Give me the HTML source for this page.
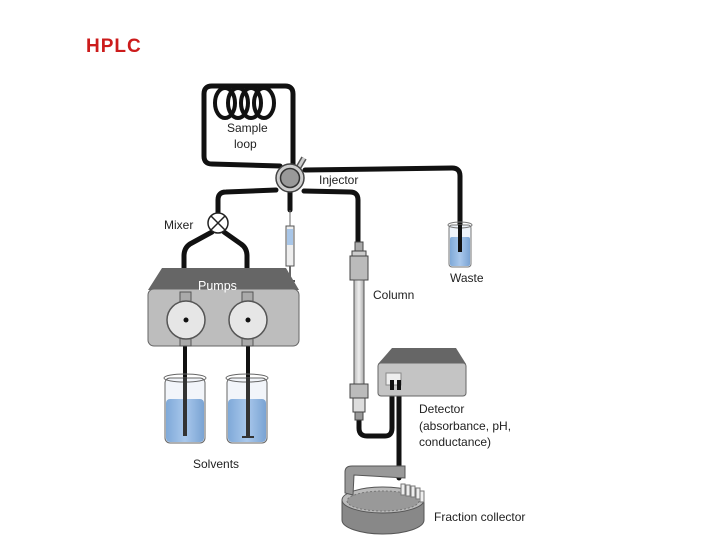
<!DOCTYPE html>
<html><head><meta charset="utf-8"><style>
html,body{margin:0;padding:0;background:#fff;}
svg{display:block}
text{font-family:"Liberation Sans",sans-serif;font-size:12px;fill:#222}
</style></head><body>
<svg width="720" height="540" viewBox="0 0 720 540" xmlns="http://www.w3.org/2000/svg">
<defs>
<linearGradient id="liq" x1="0" x2="1"><stop offset="0" stop-color="#7fa9d8"/><stop offset="0.5" stop-color="#a9c8ec"/><stop offset="1" stop-color="#7aa3d3"/></linearGradient>
<linearGradient id="col" x1="0" x2="1"><stop offset="0" stop-color="#bbb"/><stop offset="0.5" stop-color="#eee"/><stop offset="1" stop-color="#aaa"/></linearGradient>
</defs>
<text x="86" y="52" style="font-family:'Liberation Sans',sans-serif;font-size:19px;font-weight:bold;fill:#cc1b1b;letter-spacing:1px">HPLC</text>
<g fill="none" stroke="#111" stroke-width="5" stroke-linecap="round" stroke-linejoin="round">
<path d="M280,166 L212,164 Q204,164 204,156 L204,94 Q204,86 212,86 L285,86 Q293,86 293,94 L293,165"/>
<path d="M305,170 L452,168 Q460,168 460,176 L460,250"/>
<path d="M276,190 L226,192 Q218,192 218,200 L218,214"/>
<path d="M212,232 L190,244 Q184,248 184,256 L184,296"/>
<path d="M224,232 L241,244 Q247,248 247,256 L247,296"/>
<path d="M304,191 L350,192 Q358,192 358,200 L358,242"/>
<path d="M290,192 L290,210"/>
<path d="M359,420 L359,428 Q359,436 367,436 L385,436 Q392,436 392,428 L392,385"/>
<path d="M399,385 L399,478"/>
<path d="M185,340 L185,436" stroke-width="4"/>
<path d="M248,340 L248,437" stroke-width="4"/>
</g>
<g fill="none" stroke="#111" stroke-width="4">
<ellipse cx="225" cy="103" rx="10" ry="15"/><ellipse cx="238" cy="103" rx="10" ry="15"/>
<ellipse cx="251" cy="103" rx="10" ry="15"/><ellipse cx="264" cy="103" rx="10" ry="15"/>
</g>
<line x1="297" y1="170" x2="304" y2="158" stroke="#555" stroke-width="6"/>
<line x1="297" y1="170" x2="304" y2="158" stroke="#ccc" stroke-width="3"/>
<circle cx="290" cy="178" r="14" fill="#ccc" stroke="#444" stroke-width="1.5"/>
<circle cx="290" cy="178" r="9.5" fill="#999" stroke="#333" stroke-width="1.5"/>
<circle cx="218" cy="223" r="10" fill="#fff" stroke="#222" stroke-width="1.5"/>
<path d="M211,216 L225,230 M225,216 L211,230" stroke="#222" stroke-width="1.5"/>
<rect x="286" y="226" width="8" height="40" fill="#eee" stroke="#555"/>
<rect x="287" y="229" width="6" height="16" fill="#a8c6e8"/>
<line x1="290" y1="210" x2="290" y2="226" stroke="#666"/>
<line x1="290" y1="266" x2="290" y2="280" stroke="#666" stroke-width="2"/>
<line x1="285" y1="281" x2="295" y2="281" stroke="#555" stroke-width="2"/>
<rect x="355" y="242" width="8" height="9" fill="#aaa" stroke="#444"/>
<rect x="352" y="251" width="14" height="5" fill="#ccc" stroke="#444"/>
<rect x="350" y="256" width="18" height="24" fill="#bbb" stroke="#444"/>
<rect x="354" y="280" width="10" height="105" fill="url(#col)" stroke="#555"/>
<rect x="350" y="384" width="18" height="14" fill="#bbb" stroke="#444"/>
<rect x="353" y="398" width="12" height="14" fill="#ddd" stroke="#444"/>
<rect x="355" y="412" width="8" height="8" fill="#999" stroke="#444"/>
<rect x="449" y="225" width="22" height="42" rx="3" fill="#eef3fa" stroke="#777"/>
<rect x="450" y="237" width="20" height="29" rx="2" fill="url(#liq)"/>
<ellipse cx="460" cy="225" rx="12" ry="3" fill="none" stroke="#777"/>
<line x1="460" y1="225" x2="460" y2="252" stroke="#111" stroke-width="4"/>
<path d="M162,268 L286,268 L299,290 L148,290 Z" fill="#666"/>
<rect x="148" y="289" width="151" height="57" rx="6" fill="#bdbdbd" stroke="#666"/>
<text x="198" y="290" style="fill:#fff;font-size:12.5px">Pumps</text>
<rect x="180" y="292" width="11" height="13" fill="#aaa" stroke="#555"/>
<rect x="242" y="292" width="11" height="13" fill="#aaa" stroke="#555"/>
<rect x="180" y="336" width="11" height="10" fill="#aaa" stroke="#555"/>
<rect x="242" y="336" width="11" height="10" fill="#aaa" stroke="#555"/>
<circle cx="186" cy="320" r="19" fill="#e6e6e6" stroke="#555" stroke-width="1.5"/>
<circle cx="248" cy="320" r="19" fill="#e6e6e6" stroke="#555" stroke-width="1.5"/>
<circle cx="186" cy="320" r="2.5" fill="#111"/><circle cx="248" cy="320" r="2.5" fill="#111"/>
<rect x="165" y="378" width="40" height="65" rx="5" fill="#f2f5fa" stroke="#666"/>
<rect x="166" y="399" width="38" height="43" rx="4" fill="url(#liq)"/>
<ellipse cx="185" cy="378" rx="21" ry="4" fill="none" stroke="#666"/>
<rect x="227" y="378" width="40" height="65" rx="5" fill="#f2f5fa" stroke="#666"/>
<rect x="228" y="399" width="38" height="43" rx="4" fill="url(#liq)"/>
<ellipse cx="247" cy="378" rx="21" ry="4" fill="none" stroke="#666"/>
<line x1="185" y1="378" x2="185" y2="436" stroke="#333" stroke-width="4"/>
<line x1="248" y1="378" x2="248" y2="437" stroke="#333" stroke-width="4"/>
<line x1="242" y1="437" x2="254" y2="437" stroke="#333" stroke-width="2"/>
<path d="M392,348 L456,348 L466,364 L378,364 Z" fill="#666"/>
<rect x="378" y="363" width="88" height="33" rx="3" fill="#c4c4c4" stroke="#666"/>
<rect x="386" y="373" width="15" height="12" fill="#eee" stroke="#888"/>
<line x1="392" y1="380" x2="392" y2="390" stroke="#111" stroke-width="4"/>
<line x1="399" y1="380" x2="399" y2="390" stroke="#111" stroke-width="4"/>
<path d="M342,500 L342,520 A41,14 0 0 0 424,520 L424,500 Z" fill="#888" stroke="#555"/>
<ellipse cx="383" cy="500" rx="41" ry="13" fill="#bbb" stroke="#555"/>
<ellipse cx="383" cy="501" rx="36" ry="10" fill="#999" stroke="#777" stroke-dasharray="2,2"/>
<path d="M345,493 L345,472 Q345,466 352,466 L405,466 L405,478 L354,475 L353,495 Z" fill="#999" stroke="#555"/>
<g fill="#eee" stroke="#777"><rect x="401" y="484" width="4" height="11"/><rect x="406" y="485" width="4" height="11"/><rect x="411" y="486" width="4" height="11"/><rect x="416" y="488" width="4" height="11"/><rect x="420" y="491" width="4" height="11"/></g>
<text x="227" y="132">Sample</text>
<text x="234" y="148">loop</text>
<text x="319" y="184">Injector</text>
<text x="164" y="229">Mixer</text>
<text x="450" y="282">Waste</text>
<text x="373" y="299">Column</text>
<text x="419" y="413">Detector</text>
<text x="419" y="430">(absorbance, pH,</text>
<text x="419" y="446">conductance)</text>
<text x="193" y="468">Solvents</text>
<text x="434" y="521">Fraction collector</text>
</svg>
</body></html>
